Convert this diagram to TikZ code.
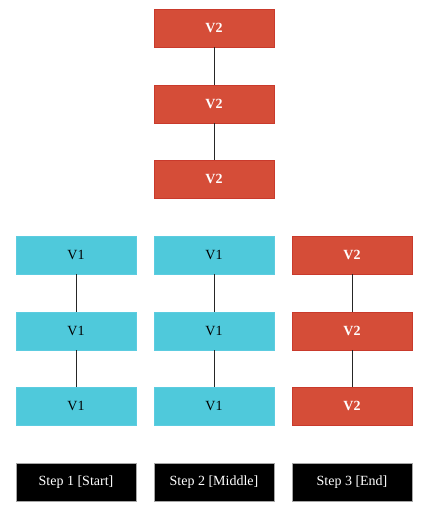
\documentclass[tikz,border=0pt]{standalone}
\usepackage{fontspec}
\setmainfont{Liberation Serif}
\definecolor{vred}{HTML}{D54D38}
\definecolor{vredb}{HTML}{C93A2C}
\definecolor{vcyan}{HTML}{4FC9DB}
\definecolor{vcyanb}{HTML}{5CCCE0}
\begin{document}
\begin{tikzpicture}[x=1pt,y=-1pt,
  box/.style={minimum width=120pt,minimum height=38pt,inner sep=0pt,font=\fontsize{14}{16}\selectfont,line width=0.8pt},
  vone/.style={box,fill=vcyan,draw=vcyanb,text=black},
  vtwo/.style={box,fill=vred,draw=vredb,text=white,font=\fontsize{14}{16}\selectfont\bfseries},
  stepbox/.style={box,fill=black,draw=gray!70,text=white,line width=1pt},
  link/.style={draw=black!85,line width=0.8pt}]
\useasboundingbox (0,0) rectangle (423,515);
% top column
\node[vtwo] (t1) at (214,28) {V2};
\node[vtwo] (t2) at (214,104) {V2};
\node[vtwo] (t3) at (214,179) {V2};
% column 1
\node[vone] (a1) at (76,255) {V1};
\node[vone] (a2) at (76,331) {V1};
\node[vone] (a3) at (76,406) {V1};
% column 2
\node[vone] (b1) at (214,255) {V1};
\node[vone] (b2) at (214,331) {V1};
\node[vone] (b3) at (214,406) {V1};
% column 3
\node[vtwo] (c1) at (352,255) {V2};
\node[vtwo] (c2) at (352,331) {V2};
\node[vtwo] (c3) at (352,406) {V2};
% steps
\node[stepbox] (s1) at (76,482) {Step 1 [Start]};
\node[stepbox] (s2) at (214,482) {Step 2 [Middle]};
\node[stepbox] (s3) at (352,482) {Step 3 [End]};
% links
\draw[link] (t1) -- (t2);
\draw[link] (t2) -- (t3);
\draw[link] (a1) -- (a2);
\draw[link] (a2) -- (a3);
\draw[link] (b1) -- (b2);
\draw[link] (b2) -- (b3);
\draw[link] (c1) -- (c2);
\draw[link] (c2) -- (c3);
\end{tikzpicture}
\end{document}
